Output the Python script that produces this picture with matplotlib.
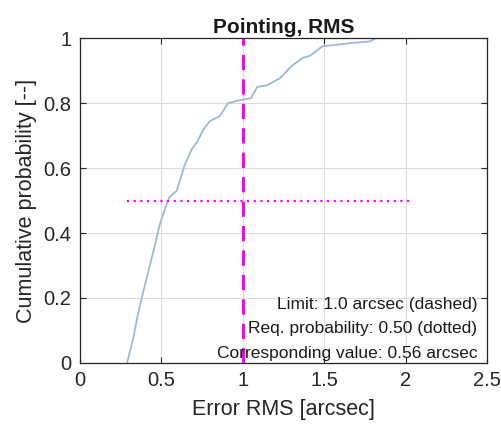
import matplotlib
matplotlib.use("Agg")
import matplotlib.pyplot as plt

err_rms = [0.29, 0.30, 0.33, 0.356, 0.39, 0.43, 0.46, 0.49, 0.52, 0.55, 0.595, 0.62,
           0.644, 0.69, 0.72, 0.76, 0.80, 0.86, 0.91, 0.99, 1.05, 1.09, 1.15,
           1.23, 1.30, 1.37, 1.41, 1.49, 1.67, 1.78, 1.82, 1.98, 2.03]
cum_prob = [0.0, 0.02, 0.08, 0.148, 0.22, 0.30, 0.36, 0.425, 0.47, 0.51, 0.53, 0.57,
            0.61, 0.66, 0.68, 0.72, 0.745, 0.76, 0.80, 0.81, 0.815, 0.85, 0.855,
            0.877, 0.914, 0.94, 0.945, 0.975, 0.985, 0.99, 1.0, 1.0, 1.0]

limit = 1.0
req_prob = 0.50
corr_value = 0.56
xticks = [0, 0.5, 1, 1.5, 2, 2.5]
yticks = [0, 0.2, 0.4, 0.6, 0.8, 1]

plt.rcParams['font.family'] = ['Liberation Sans', 'DejaVu Sans']

fig = plt.figure(figsize=(5.02, 4.29), dpi=100)
ax = fig.add_axes([0.159, 0.154, 0.811, 0.757])

ax.plot(err_rms, cum_prob, color='#9db9da', lw=1.3)
ax.plot([limit, limit], [0, 1], color='#ff00ff', ls=(0, (5, 3)), lw=2.2)
ax.plot([min(err_rms), max(err_rms)], [req_prob, req_prob], color='#ff00ff',
        ls=(0, (1, 2)), lw=1.6)

ax.set_xlim(0, 2.5)
ax.set_ylim(0, 1)
ax.set_xticks(xticks)
ax.set_xticklabels(['0', '0.5', '1', '1.5', '2', '2.5'])
ax.set_yticks(yticks)
ax.set_yticklabels(['0', '0.2', '0.4', '0.6', '0.8', '1'])
ax.grid(True, color='#dcdcdc', lw=0.8)
ax.set_axisbelow(True)
ax.tick_params(direction='in', top=True, right=True, labelsize=14.5,
               colors='#262626', length=4, pad=6)
for s in ax.spines.values():
    s.set_color('#262626')
    s.set_linewidth(0.9)

ax.set_title('Pointing, RMS', fontsize=15, fontweight='bold', color='#1a1a1a', pad=4)
ax.set_xlabel('Error RMS [arcsec]', fontsize=15.5, color='#262626', labelpad=6)
ax.set_ylabel('Cumulative probability [--]', fontsize=15.5, color='#262626', labelpad=5)

lines = ['Limit: %.1f arcsec (dashed)' % limit,
         'Req. probability: %.2f (dotted)' % req_prob,
         'Corresponding value: %.2f arcsec' % corr_value]
for i, t in enumerate(lines):
    ax.text(2.44, 0.18 - i * 0.075, t, ha='right', va='center', fontsize=12.5,
            color='#1a1a1a')

fig.savefig('out.png', dpi=100)
